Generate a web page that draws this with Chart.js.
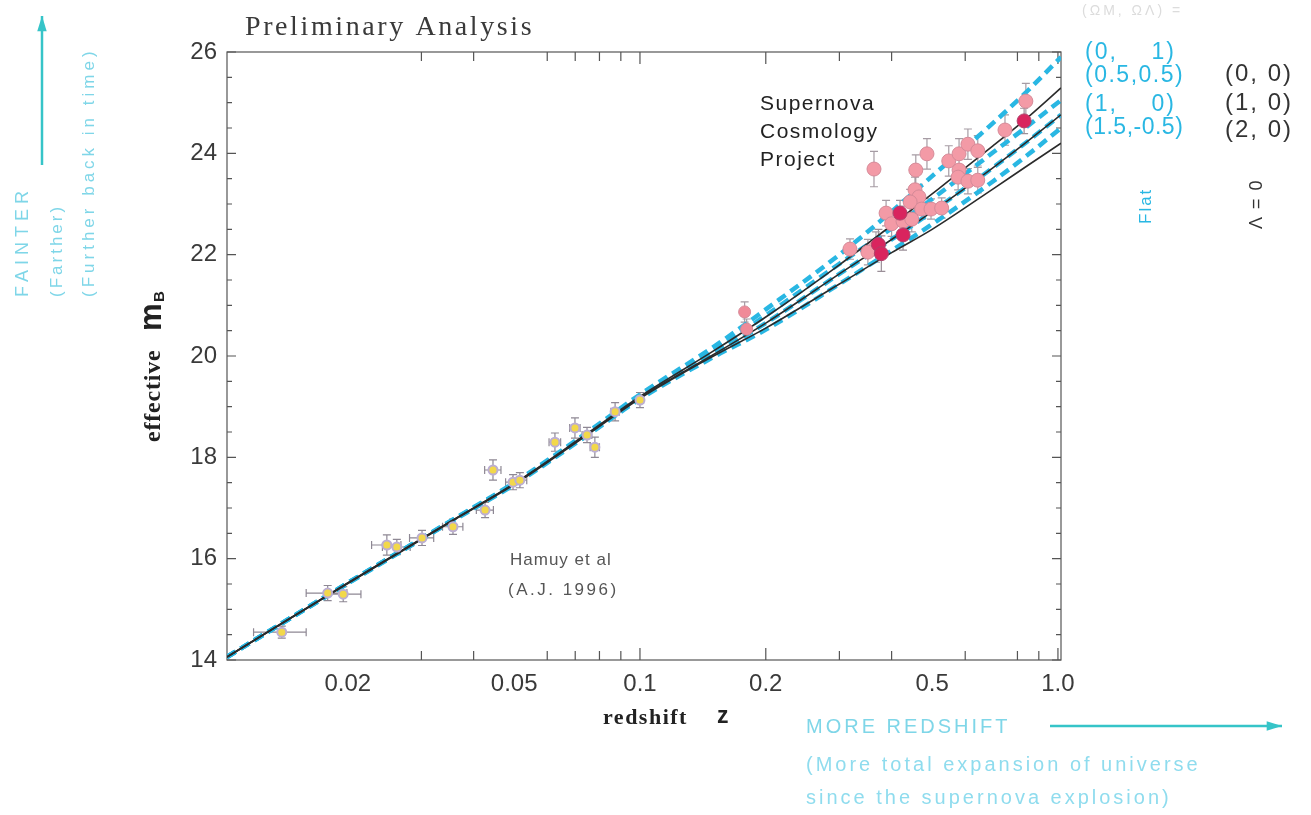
<!DOCTYPE html>
<html>
<head>
<meta charset="utf-8">
<title>Preliminary Analysis - effective m_B vs redshift</title>
<script src="https://cdn.jsdelivr.net/npm/chart.js@4.4.1/dist/chart.umd.min.js"></script>
<style>
  html, body { margin: 0; padding: 0; background: #fff; }
  #wrap { width: 1311px; height: 815px; }
</style>
</head>
<body>
<div id="wrap"><canvas id="hubble" width="1311" height="815"></canvas></div>
<script>
// axis ticks
const xLabelVals = [0.02, 0.05, 0.1, 0.2, 0.5, 1.0];
const xLabelText = ['0.02', '0.05', '0.1', '0.2', '0.5', '1.0'];
const xTickMarks = [0.03, 0.04, 0.06, 0.07, 0.08, 0.09, 0.1, 0.2, 0.3, 0.4, 0.6, 0.8, 0.9, 1.0];
const yMinorStep = 0.5;

// model curves (Omega_M, Omega_Lambda)
const curveZ    = [0.01028, 0.02, 0.035, 0.05, 0.075, 0.1, 0.15, 0.2, 0.3, 0.4, 0.5, 0.7, 0.85, 1.017];
const flat_0_1  = [14.06, 15.52, 16.73, 17.50, 18.50, 19.24, 20.18, 20.92, 22.00, 22.85, 23.55, 24.60, 25.25, 25.90];
const flat_h_h  = [14.06, 15.52, 16.72, 17.48, 18.48, 19.20, 20.10, 20.80, 21.82, 22.52, 23.10, 24.02, 24.55, 25.05];
const flat_1_0  = [14.06, 15.52, 16.72, 17.48, 18.46, 19.18, 20.03, 20.65, 21.62, 22.30, 22.85, 23.72, 24.25, 24.76];
const flat_15_m = [14.06, 15.51, 16.71, 17.46, 18.44, 19.15, 19.98, 20.52, 21.42, 22.08, 22.60, 23.45, 23.98, 24.50];
const open_0_0  = [14.06, 15.52, 16.72, 17.48, 18.48, 19.20, 20.10, 20.77, 21.80, 22.58, 23.20, 24.15, 24.72, 25.29];
const closed_2_0 = [14.06, 15.51, 16.71, 17.46, 18.45, 19.16, 20.00, 20.55, 21.42, 22.04, 22.50, 23.30, 23.77, 24.20];

// Calan/Tololo low redshift supernovae (Hamuy et al)
const lowZ    = [0.0139, 0.0179, 0.0195, 0.0248, 0.0262, 0.0301, 0.0357, 0.0426, 0.0445, 0.0497, 0.0516, 0.0626, 0.0699, 0.0747, 0.0780, 0.0872, 0.1000];
const lowM    = [14.55, 15.32, 15.30, 16.27, 16.23, 16.41, 16.63, 16.96, 17.75, 17.51, 17.55, 18.30, 18.58, 18.44, 18.20, 18.90, 19.13];
const lowZerr = [0.002, 0.002, 0.002, 0.002, 0.002, 0.002, 0.002, 0.002, 0.002, 0.002, 0.002, 0.002, 0.002, 0.002, 0.002, 0.002, 0.002];
const lowMerr = [0.12, 0.15, 0.15, 0.2, 0.15, 0.15, 0.15, 0.15, 0.2, 0.15, 0.15, 0.18, 0.2, 0.15, 0.2, 0.18, 0.15];

// Supernova Cosmology Project
const midZ    = [0.178, 0.180];
const midM    = [20.87, 20.53];
const midMerr = [0.2, 0.2];

const hiZ    = [0.363, 0.486, 0.457, 0.455, 0.465, 0.443, 0.388, 0.400, 0.426, 0.447, 0.318, 0.367, 0.351, 0.472, 0.497, 0.527, 0.548, 0.580, 0.609, 0.643, 0.580, 0.577, 0.609, 0.643, 0.747, 0.838];
const hiM    = [23.69, 23.99, 23.67, 23.28, 23.14, 23.04, 22.82, 22.61, 22.66, 22.70, 22.11, 22.15, 22.05, 22.90, 22.90, 22.92, 23.85, 23.99, 24.18, 24.05, 23.67, 23.53, 23.45, 23.47, 24.46, 25.03];
const hiMerr = [0.35, 0.3, 0.3, 0.25, 0.25, 0.25, 0.25, 0.25, 0.3, 0.25, 0.2, 0.3, 0.25, 0.2, 0.2, 0.2, 0.3, 0.3, 0.3, 0.3, 0.25, 0.25, 0.25, 0.25, 0.3, 0.35];

const darkZ    = [0.419, 0.426, 0.372, 0.378, 0.830];
const darkM    = [22.82, 22.39, 22.20, 22.02, 24.64];
const darkMerr = [0.25, 0.3, 0.3, 0.35, 0.25];

const CYAN = '#29b7e3';
const INK = '#2b2b2b';

function pts(xs, ys) {
  return xs.map((v, i) => ({ x: v, y: ys[i] }));
}

function curve(vals, color, width, dash) {
  return {
    data: pts(curveZ, vals),
    showLine: true,
    borderColor: color,
    borderWidth: width,
    borderDash: dash,
    pointRadius: 0,
    cubicInterpolationMode: 'monotone',
    fill: false
  };
}

const datasets = [
  { data: pts(darkZ, darkM), errY: darkMerr, errColor: '#9a8f98',
    pointRadius: 7, backgroundColor: '#d9245e', borderColor: '#b0406a', borderWidth: 1 },
  { data: pts(hiZ, hiM), errY: hiMerr, errColor: '#a69ca4',
    pointRadius: 7, backgroundColor: '#f39aa6', borderColor: '#d58a98', borderWidth: 1 },
  { data: pts(midZ, midM), errY: midMerr, errColor: '#a69ca4',
    pointRadius: 6, backgroundColor: '#f08a98', borderColor: '#d58a98', borderWidth: 1 },
  { data: pts(lowZ, lowM), errY: lowMerr, errX: lowZerr, errColor: '#8e8894',
    pointRadius: 4.5, backgroundColor: '#f2d84a', borderColor: '#bcaed2', borderWidth: 2 },
  curve(open_0_0, INK, 1.6, []),
  curve(flat_1_0, INK, 1.6, []),
  curve(closed_2_0, INK, 1.6, []),
  curve(flat_0_1, CYAN, 4.5, [10, 6]),
  curve(flat_h_h, CYAN, 4.5, [10, 6]),
  curve(flat_1_0, CYAN, 4.5, [10, 6]),
  curve(flat_15_m, CYAN, 4.5, [10, 6])
];

// frame with inward ticks on all four sides
const frameTicks = {
  id: 'frameTicks',
  beforeDatasetsDraw(chart) {
    const { ctx, chartArea: a, scales: { x, y } } = chart;
    ctx.save();
    ctx.strokeStyle = '#555';
    ctx.lineWidth = 1.2;
    ctx.strokeRect(a.left, a.top, a.right - a.left, a.bottom - a.top);
    ctx.beginPath();
    for (let v = 14; v <= 26.001; v += yMinorStep) {
      const py = y.getPixelForValue(v);
      const len = (Math.round(v) === v && v % 2 === 0) ? 9 : 5;
      ctx.moveTo(a.left, py); ctx.lineTo(a.left + len, py);
      ctx.moveTo(a.right, py); ctx.lineTo(a.right - len, py);
    }
    xTickMarks.forEach(v => {
      const px = x.getPixelForValue(v);
      const len = xLabelVals.includes(v) ? 12 : 9;
      ctx.moveTo(px, a.bottom); ctx.lineTo(px, a.bottom - len);
      ctx.moveTo(px, a.top); ctx.lineTo(px, a.top + len);
    });
    ctx.stroke();
    ctx.restore();
  }
};

const errorBars = {
  id: 'errorBars',
  beforeDatasetsDraw(chart) {
    const { ctx, scales: { x, y } } = chart;
    ctx.save();
    ctx.lineWidth = 1.2;
    chart.data.datasets.forEach(ds => {
      if (!ds.errY) return;
      ctx.strokeStyle = ds.errColor;
      ctx.beginPath();
      ds.data.forEach((p, j) => {
        const px = x.getPixelForValue(p.x);
        const py = y.getPixelForValue(p.y);
        const ey = ds.errY[j];
        const y1 = y.getPixelForValue(p.y + ey);
        const y2 = y.getPixelForValue(p.y - ey);
        ctx.moveTo(px, y1); ctx.lineTo(px, y2);
        ctx.moveTo(px - 4, y1); ctx.lineTo(px + 4, y1);
        ctx.moveTo(px - 4, y2); ctx.lineTo(px + 4, y2);
        if (ds.errX) {
          const x1 = x.getPixelForValue(p.x - ds.errX[j]);
          const x2 = x.getPixelForValue(p.x + ds.errX[j]);
          ctx.moveTo(x1, py); ctx.lineTo(x2, py);
          ctx.moveTo(x1, py - 4); ctx.lineTo(x1, py + 4);
          ctx.moveTo(x2, py - 4); ctx.lineTo(x2, py + 4);
        }
      });
      ctx.stroke();
    });
    ctx.restore();
  }
};

function text(ctx, str, x, y, font, color, spacing, align) {
  ctx.font = font;
  ctx.fillStyle = color;
  ctx.letterSpacing = (spacing || 0) + 'px';
  ctx.textAlign = align || 'left';
  ctx.textBaseline = 'middle';
  ctx.fillText(str, x, y);
  ctx.letterSpacing = '0px';
}

// text running upwards, starting at (x, y)
function vtext(ctx, str, x, y, font, color, spacing) {
  ctx.save();
  ctx.translate(x, y);
  ctx.rotate(-Math.PI / 2);
  text(ctx, str, 0, 0, font, color, spacing, 'left');
  ctx.restore();
}

function arrow(ctx, x1, y1, x2, y2, color) {
  const ang = Math.atan2(y2 - y1, x2 - x1);
  ctx.save();
  ctx.strokeStyle = color;
  ctx.fillStyle = color;
  ctx.lineWidth = 2.5;
  ctx.beginPath();
  ctx.moveTo(x1, y1); ctx.lineTo(x2, y2);
  ctx.stroke();
  ctx.beginPath();
  ctx.moveTo(x2, y2);
  ctx.lineTo(x2 - 16 * Math.cos(ang - 0.3), y2 - 16 * Math.sin(ang - 0.3));
  ctx.lineTo(x2 - 16 * Math.cos(ang + 0.3), y2 - 16 * Math.sin(ang + 0.3));
  ctx.closePath();
  ctx.fill();
  ctx.restore();
}

const notes = {
  id: 'notes',
  afterDraw(chart) {
    const ctx = chart.ctx;
    const sans = '"Liberation Sans", Arial, sans-serif';
    const serif = '"Liberation Serif", "Times New Roman", serif';
    const faint = '#7fd6e8';
    ctx.save();

    text(ctx, 'Preliminary Analysis', 245, 28, '28px ' + serif, '#3a3a3a', 2.6);

    text(ctx, 'Supernova', 760, 104, '21px ' + sans, '#222', 1.5);
    text(ctx, 'Cosmology', 760, 132, '21px ' + sans, '#222', 1.5);
    text(ctx, 'Project', 760, 160, '21px ' + sans, '#222', 1.5);

    text(ctx, 'Hamuy et al', 510, 560, '17px ' + sans, '#555', 1);
    text(ctx, '(A.J. 1996)', 508, 590, '17px ' + sans, '#555', 2.5);

    // axis titles
    text(ctx, 'redshift', 603, 718, 'bold 22px ' + serif, '#222', 1.5);
    text(ctx, 'z', 717, 717, 'bold 23px ' + sans, '#222');
    vtext(ctx, 'effective', 154, 442, 'bold 24px ' + serif, '#222', 0.8);
    vtext(ctx, 'm', 152, 331, 'bold 31px ' + sans, '#222');
    vtext(ctx, 'B', 160, 302, 'bold 15px ' + sans, '#222');

    // model labels
    text(ctx, '(\u03A9M, \u03A9\u039B) =', 1082, 11, '14px ' + sans, '#dcdcdc', 3);
    const lab = '23px ' + sans;
    text(ctx, '(0,    1)', 1085, 53, lab, CYAN, 2);
    text(ctx, '(0.5,0.5)', 1085, 76, lab, CYAN, 1.5);
    text(ctx, '(1,    0)', 1085, 105, lab, CYAN, 2);
    text(ctx, '(1.5,-0.5)', 1085, 128, lab, CYAN, 0.5);
    const blab = '24px ' + sans;
    text(ctx, '(0, 0)', 1225, 74, blab, '#333', 2);
    text(ctx, '(1, 0)', 1225, 103, blab, '#333', 2);
    text(ctx, '(2, 0)', 1225, 130, blab, '#333', 2);
    vtext(ctx, 'Flat', 1146, 224, '17px ' + sans, CYAN, 2);
    vtext(ctx, '\u039B = 0', 1257, 229, '18px ' + sans, '#333', 1.5);

    // left annotation
    arrow(ctx, 42, 165, 42, 16, '#36c4c8');
    vtext(ctx, 'FAINTER', 23, 297, '18px ' + sans, faint, 5);
    vtext(ctx, '(Farther)', 57, 297, '17px ' + sans, faint, 3);
    vtext(ctx, '(Further back in time)', 89, 297, '17px ' + sans, faint, 4);

    // bottom annotation
    text(ctx, 'MORE REDSHIFT', 806, 727, '20px ' + sans, faint, 3);
    arrow(ctx, 1050, 726, 1282, 726, '#36c4c8');
    text(ctx, '(More total expansion of universe', 806, 765, '20px ' + sans, '#8fdcee', 3);
    text(ctx, 'since the supernova explosion)', 806, 798, '20px ' + sans, '#8fdcee', 3);

    ctx.restore();
  }
};

new Chart(document.getElementById('hubble').getContext('2d'), {
  type: 'scatter',
  data: { datasets },
  options: {
    responsive: false,
    animation: false,
    devicePixelRatio: 1,
    layout: { padding: { left: 167, right: 250, top: 52, bottom: 115 } },
    plugins: { legend: { display: false }, tooltip: { enabled: false } },
    scales: {
      x: {
        type: 'logarithmic',
        min: 0.01028,
        max: 1.017,
        grid: { display: false, drawTicks: false },
        border: { display: false },
        afterFit: s => { s.height = 40; },
        afterBuildTicks: s => { s.ticks = xLabelVals.map(v => ({ value: v })); },
        ticks: {
          autoSkip: false,
          maxRotation: 0,
          padding: 10,
          color: '#3a3a3a',
          font: { family: '"Liberation Sans", Arial, sans-serif', size: 24 },
          callback: v => {
            const i = xLabelVals.indexOf(v);
            return i >= 0 ? xLabelText[i] : '';
          }
        }
      },
      y: {
        min: 14,
        max: 26,
        grid: { display: false, drawTicks: false },
        border: { display: false },
        afterFit: s => { s.width = 60; },
        ticks: {
          stepSize: 2,
          padding: 10,
          color: '#3a3a3a',
          font: { family: '"Liberation Sans", Arial, sans-serif', size: 24 }
        }
      }
    }
  },
  plugins: [frameTicks, errorBars, notes]
});
</script>
</body>
</html>
